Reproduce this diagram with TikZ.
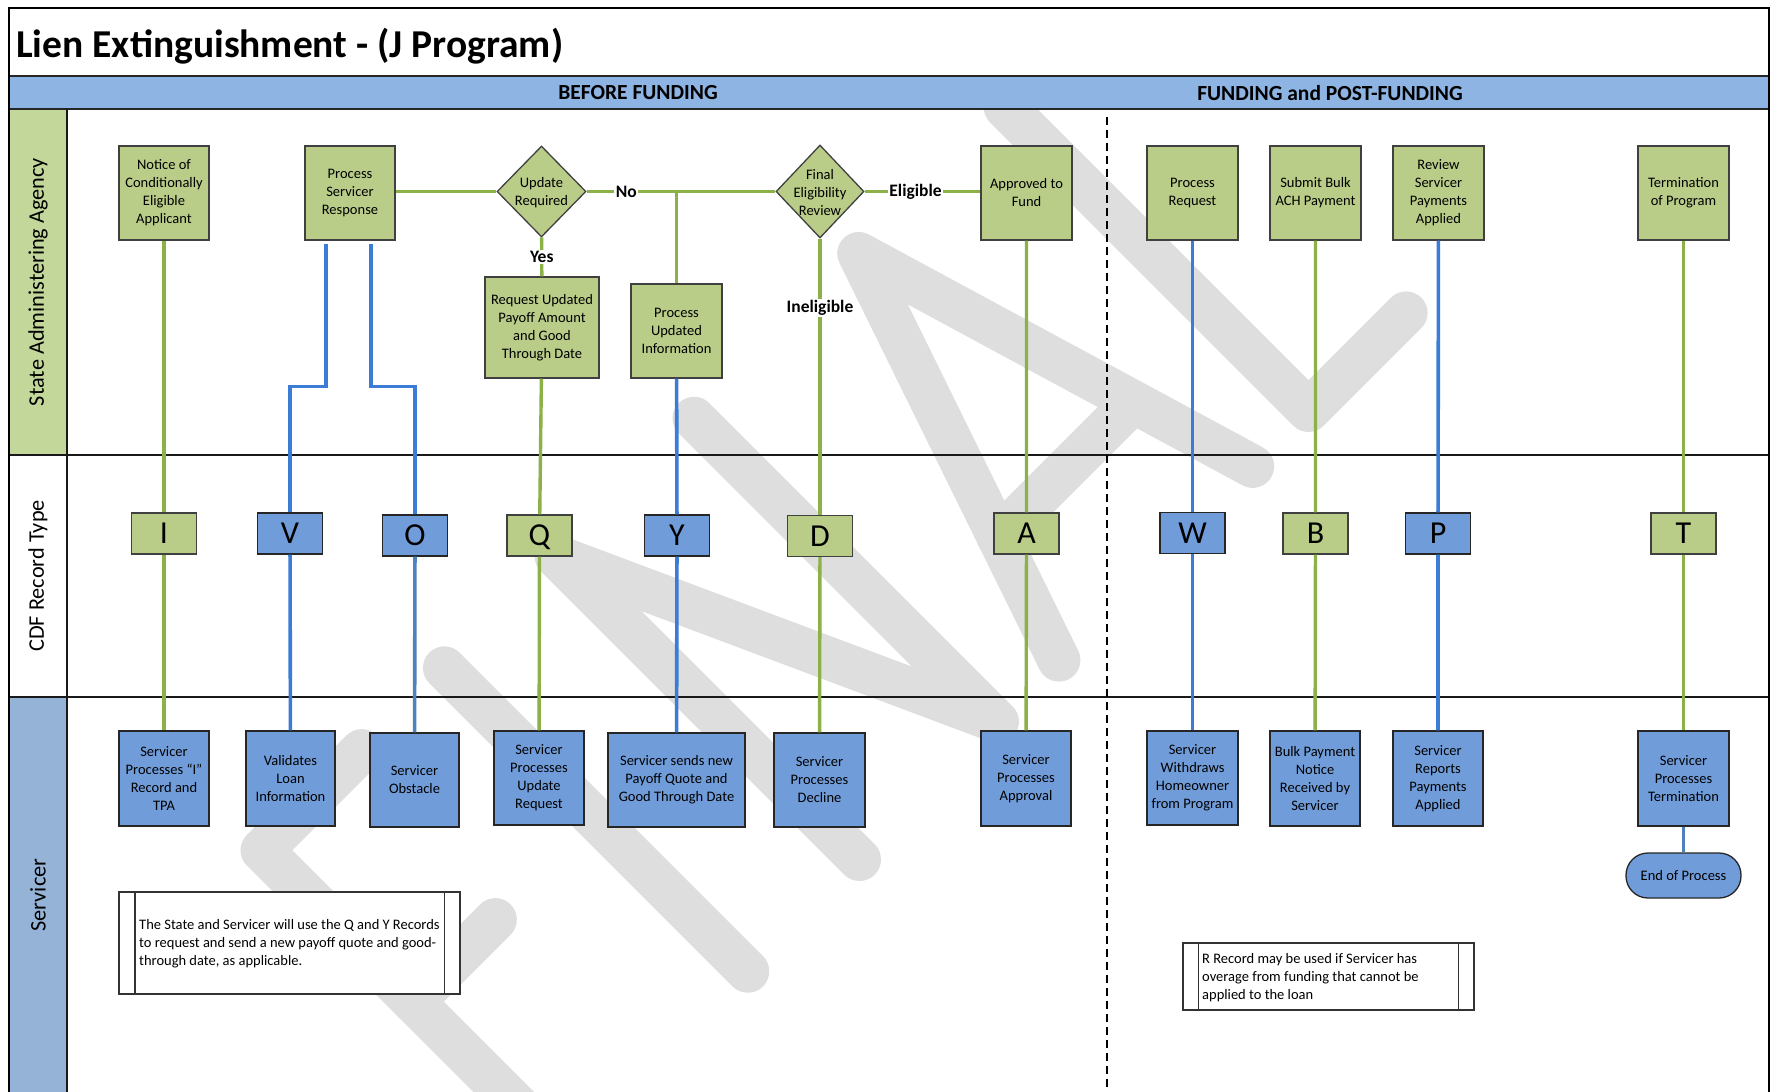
\documentclass[tikz,border=0pt]{standalone}
\usepackage{fontspec}
\setmainfont{Carlito}
\usetikzlibrary{shapes.geometric}
\definecolor{gfill}{RGB}{185,204,136}
\definecolor{gcol}{RGB}{196,215,155}
\definecolor{hdr}{RGB}{141,180,226}
\definecolor{bfill}{RGB}{112,157,218}
\definecolor{bcol}{RGB}{149,179,215}
\definecolor{gline}{RGB}{140,177,73}
\definecolor{bline}{RGB}{58,124,214}
\definecolor{sline}{RGB}{79,129,189}
\definecolor{wm}{RGB}{222,222,222}
\definecolor{edge}{RGB}{64,64,64}
\newcommand\bxf{\fontsize{14.5}{18}\selectfont}
\newcommand\ltf{\fontsize{32}{32}\selectfont}
\newcommand\lbf{\fontsize{17.5}{18}\selectfont\bfseries}
\newcommand\lnf{\fontsize{22.3}{24}\selectfont}
\newcommand\anf{\fontsize{14.5}{18}\selectfont}
\newcommand\hdf{\fontsize{21.5}{23}\selectfont\bfseries}
\tikzset{
 gbox/.style={draw=edge, fill=gfill, line width=1.3pt, minimum width=90pt, minimum height=94pt, inner sep=0pt, align=center, font=\bxf},
 bbox/.style={draw=black!85, fill=bfill, line width=1.3pt, minimum width=90pt, minimum height=95pt, inner sep=0pt, align=center, font=\bxf},
 gltr/.style={draw=edge, fill=gfill, line width=1.3pt, minimum width=65pt, minimum height=41pt, inner sep=0pt, font=\ltf, text height=20.5pt, text depth=0pt},
 bltr/.style={draw=black!85, fill=bfill, line width=1.3pt, minimum width=65pt, minimum height=41pt, inner sep=0pt, font=\ltf, text height=20.5pt, text depth=0pt},
 dmd/.style={diamond, draw=edge, fill=gfill, line width=1.3pt, minimum width=89pt, minimum height=91pt, inner sep=0pt},
 gl/.style={draw=gline, line width=3.4pt},
 bl/.style={draw=bline, line width=3.6pt},
 sl/.style={draw=sline, line width=3.6pt},
 lbl/.style={fill=white, inner sep=1.5pt, font=\lbf, text=black},
 wmk/.style={draw=wm, line width=43pt, line cap=round, line join=round},
 note/.style={draw=black!80, fill=white, line width=1.2pt, inner sep=0pt},
 lane/.style={rotate=90, font=\lnf, inner sep=0pt},
}
\begin{document}
\begin{tikzpicture}[x=1pt,y=-1pt]
\useasboundingbox (0,0) rectangle (1775,1092);
\fill[white] (0,0) rectangle (1775,1092);
% lane label columns
\fill[gcol] (9,109) rectangle (67,455);
\fill[bcol] (9,697) rectangle (67,1100);
% watermark
\begin{scope}[shift={(859.5,859.5)}, x={(0.7071pt,0.7071pt)}, y={(-0.7071pt,0.7071pt)}]
 \draw[wmk] (-416,0) -- (-416,429) -- (-275,429);
 \draw[wmk] (-416,215) -- (-300,215);
 \draw[wmk] (-158,0) -- (-158,429);
 \draw[wmk] (0,0) -- (0,429) -- (195,0) -- (195,429);
 \draw[wmk] (282,0) -- (428,429) -- (556,0);
 \draw[wmk] (326,130) -- (512,130);
 \draw[wmk] (635,429) -- (635,0) -- (773,0);
\end{scope}
% header band
\fill[hdr] (9,76) rectangle (1769,109);
\draw[line width=2pt, black!85] (9,76) -- (1769,76);
\draw[line width=2pt, black!85] (9,109) -- (1769,109);
\draw[line width=1.5pt, black!90] (9,455) -- (1769,455);
\draw[line width=1.5pt, black!90] (9,697) -- (1769,697);
\draw[line width=1.5pt, black!90] (67,109) -- (67,1100);
\draw[line width=1.8pt] (9,1100) -- (9,8) -- (1769,8) -- (1769,1100);
\draw[line width=1.6pt, dash pattern=on 8pt off 5pt] (1107,117) -- (1107,1100);
% titles
\node[anchor=base west, font=\fontsize{39.5}{44}\selectfont\bfseries, inner sep=0pt] (title) at (16,57) {Lien Extinguishment - (J Program)};
\node[font=\hdf] (h1) at (638,93) {BEFORE FUNDING};
\node[font=\hdf] (h2) at (1330,93) {FUNDING and POST-FUNDING};
\node[lane] (L1) at (38,282) {State Administering Agency};
\node[lane] (L2) at (38,576) {CDF Record Type};
\node[lane] (L3) at (38,895) {Servicer};
% lane 1
\node[gbox] (n1) at (164,193) {Notice of\\Conditionally\\Eligible\\Applicant};
\node[gbox] (n2) at (350,193) {Process\\Servicer\\Response};
\node[dmd] (d1) at (541.5,191.5) {};
\node[font=\bxf, align=center, inner sep=0pt] (d1t) at (541.5,193) {Update\\Required};
\node[gbox, minimum width=114pt, minimum height=101pt] (n3) at (542,327.5) {Request Updated\\Payoff Amount\\and Good\\Through Date};
\node[gbox, minimum width=91pt] (n4) at (676.5,331) {Process\\Updated\\Information};
\node[dmd, minimum width=88pt, minimum height=93pt] (d2) at (820,191.5) {};
\node[font=\bxf, align=center, inner sep=0pt] (d2t) at (820,193) {Final\\Eligibility\\Review};
\node[gbox, minimum width=91pt] (n5) at (1026.5,193) {Approved to\\Fund};
\node[gbox, minimum width=91pt] (n6) at (1192.5,193) {Process\\Request};
\node[gbox, minimum width=91pt] (n7) at (1315.5,193) {Submit Bulk\\ACH Payment};
\node[gbox, minimum width=91pt] (n8) at (1438.5,193) {Review\\Servicer\\Payments\\Applied};
\node[gbox, minimum width=91pt] (n9) at (1683.5,193) {Termination\\of Program};
% lane 2
\node[gltr] (I) at (164,533.5) {I};
\node[bltr] (V) at (290,533.5) {V};
\node[bltr] (O) at (415,535.5) {O};
\node[gltr] (Q) at (539.5,535.5) {Q};
\node[bltr] (Y) at (677,535.5) {Y};
\node[gltr] (D) at (820,536) {D};
\node[gltr] (A) at (1026.5,533.5) {A};
\node[bltr] (W) at (1192.5,533) {W};
\node[gltr] (B) at (1315.5,533.5) {B};
\node[bltr] (P) at (1438,533.5) {P};
\node[gltr] (T) at (1683.5,533.5) {T};
% lane 3
\node[bbox] (s1) at (164,778.5) {Servicer\\Processes “I”\\Record and\\TPA};
\node[bbox, minimum width=89pt] (s2) at (290.5,778.5) {Validates\\Loan\\Information};
\node[bbox, minimum width=89pt, minimum height=94pt] (s3) at (414.5,780) {Servicer\\Obstacle};
\node[bbox, minimum height=94pt] (s4) at (539,778) {Servicer\\Processes\\Update\\Request};
\node[bbox, minimum width=137pt, minimum height=94pt] (s5) at (676.5,780) {Servicer sends new\\Payoff Quote and\\Good Through Date};
\node[bbox, minimum width=91pt, minimum height=94pt] (s6) at (819.5,780) {Servicer\\Processes\\Decline};
\node[bbox] (s7) at (1026,778.5) {Servicer\\Processes\\Approval};
\node[bbox, minimum width=91pt, minimum height=94pt] (s8) at (1192.5,778) {Servicer\\Withdraws\\Homeowner\\from Program};
\node[bbox] (s9) at (1315,778.5) {Bulk Payment\\Notice\\Received by\\Servicer};
\node[bbox] (s10) at (1438,778.5) {Servicer\\Reports\\Payments\\Applied};
\node[bbox, minimum width=91pt] (s11) at (1683.5,778.5) {Servicer\\Processes\\Termination};
\node[draw=black!85, fill=bfill, line width=1.3pt, minimum width=115pt, minimum height=45pt, rounded corners=22pt, inner sep=0pt, font=\bxf] (e) at (1683.5,875.5) {End of Process};
% notes
\node[note, minimum width=341pt, minimum height=102pt] (a1) at (289.5,943) {};
\draw[line width=1.2pt, black!80] ([xshift=16.5pt]a1.north west) -- ([xshift=16.5pt]a1.south west);
\draw[line width=1.2pt, black!80] ([xshift=-16pt]a1.north east) -- ([xshift=-16pt]a1.south east);
\node[anchor=west, align=left, font=\anf, inner sep=0pt] (a1t) at (139,944) {The State and Servicer will use the Q and Y Records\\to request and send a new payoff quote and good-\\through date, as applicable.};
\node[note, minimum width=291pt, minimum height=67pt] (a2) at (1328.5,976.5) {};
\draw[line width=1.2pt, black!80] ([xshift=16pt]a2.north west) -- ([xshift=16pt]a2.south west);
\draw[line width=1.2pt, black!80] ([xshift=-16pt]a2.north east) -- ([xshift=-16pt]a2.south east);
\node[anchor=west, align=left, font=\anf, inner sep=0pt] (a2t) at (1202,978) {R Record may be used if Servicer has\\overage from funding that cannot be\\applied to the loan};
% connectors
\draw[gl] (n1) -- (I) -- (s1);
\draw[bl] ([xshift=-24pt,yshift=-3pt]n2.south) -- ++(0,143) -| (V.north);
\draw[bl] (V) -- (s2);
\draw[bl] ([xshift=21pt,yshift=-3pt]n2.south) -- ++(0,143) -| (O.north);
\draw[sl] (O) -- (s3);
\draw[gl] (n2.east |- d1.west) -- (d1.west);
\draw[gl] (d1.east -| n4.north) -- (n4.north);
\draw[gl] (d1) -- node[lbl, pos=0.21] {No} (d2);
\draw[gl] (d1) -- node[lbl] {Yes} (n3);
\draw[gl] (n3) -- (Q) -- (s4);
\draw[bl] (n4) -- (Y) -- (s5);
\draw[gl] (d2) -- node[lbl, pos=0.25] {Ineligible} (D);
\draw[gl] (D) -- (s6);
\draw[gl] (d2.east) -- node[lbl, pos=0.44] {Eligible} (n5.west |- d2.east);
\draw[gl] (n5) -- (A) -- (s7);
\draw[bl] (n6) -- (W) -- (s8);
\draw[gl] (n7) -- (B) -- (s9);
\draw[bl] (n8) -- (P) -- (s10);
\draw[gl] (n9) -- (T) -- (s11);
\draw[sl] (s11) -- (e);
\end{tikzpicture}
\end{document}
